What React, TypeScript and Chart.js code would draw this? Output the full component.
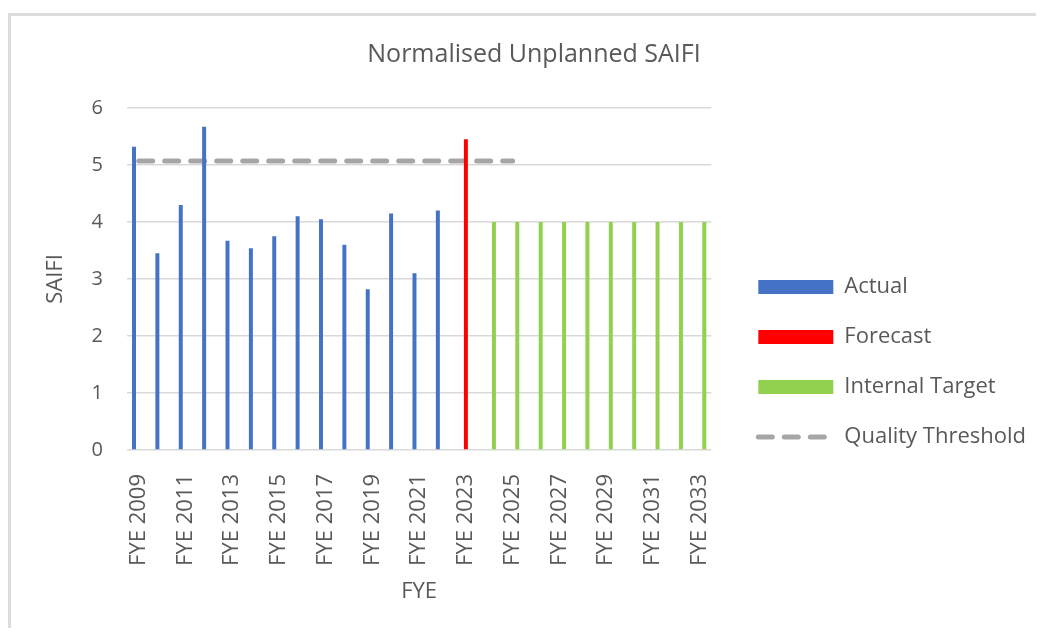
import React, { useEffect, useRef } from 'react';
import { Chart, registerables } from 'chart.js';

Chart.register(...registerables);

const categories = [
  'FYE 2009', 'FYE 2010', 'FYE 2011', 'FYE 2012', 'FYE 2013', 'FYE 2014', 'FYE 2015',
  'FYE 2016', 'FYE 2017', 'FYE 2018', 'FYE 2019', 'FYE 2020', 'FYE 2021', 'FYE 2022',
  'FYE 2023', 'FYE 2024', 'FYE 2025', 'FYE 2026', 'FYE 2027', 'FYE 2028', 'FYE 2029',
  'FYE 2030', 'FYE 2031', 'FYE 2032', 'FYE 2033',
];

const actual = [
  5.32, 3.45, 4.3, 5.67, 3.67, 3.54, 3.75, 4.1, 4.05, 3.6, 2.82, 4.15, 3.1, 4.2,
  null, null, null, null, null, null, null, null, null, null, null,
];

const forecast = [
  null, null, null, null, null, null, null, null, null, null, null, null, null, null,
  5.45, null, null, null, null, null, null, null, null, null, null,
];

const internalTarget = [
  null, null, null, null, null, null, null, null, null, null, null, null, null, null,
  null, 4, 4, 4, 4, 4, 4, 4, 4, 4, 4,
];

const qualityThreshold = [
  5.07, 5.07, 5.07, 5.07, 5.07, 5.07, 5.07, 5.07, 5.07, 5.07, 5.07, 5.07, 5.07, 5.07,
  5.07, 5.07, 5.07, null, null, null, null, null, null, null, null,
];

const yMin = 0;
const yMax = 6;
const yStep = 1;

const TEXT = '#595959';
const GRID = '#d9d9d9';
const LINE_DASH = [14, 12];

export default function App() {
  const ref = useRef<HTMLCanvasElement | null>(null);

  useEffect(() => {
    if (!ref.current) return;
    Chart.defaults.font.family = "'Open Sans', sans-serif";
    const chart = new Chart(ref.current, {
      type: 'bar',
      data: {
        labels: categories,
        datasets: [
          {
            type: 'bar',
            label: 'Actual',
            data: actual,
            backgroundColor: '#4472c4',
            borderWidth: 0,
            order: 0,
          },
          {
            type: 'bar',
            label: 'Forecast',
            data: forecast,
            backgroundColor: '#ff0000',
            borderWidth: 0,
            order: 0,
          },
          {
            type: 'bar',
            label: 'Internal Target',
            data: internalTarget,
            backgroundColor: '#92d050',
            borderWidth: 0,
            order: 0,
          },
          {
            type: 'line',
            label: 'Quality Threshold',
            data: qualityThreshold,
            borderColor: '#a6a6a6',
            backgroundColor: '#a6a6a6',
            borderWidth: 5,
            borderDash: LINE_DASH,
            borderCapStyle: 'round',
            pointRadius: 0,
            fill: false,
            order: 1,
          },
        ] as any,
      },
      options: {
        responsive: true,
        maintainAspectRatio: false,
        animation: false,
        devicePixelRatio: 1,
        layout: { padding: { left: 21, right: 0, top: 0, bottom: 0 } },
        datasets: {
          bar: { categoryPercentage: 0.6, barPercentage: 0.85 },
        },
        scales: {
          x: {
            grid: { display: false },
            border: { display: false },
            ticks: {
              autoSkip: false,
              minRotation: 90,
              maxRotation: 90,
              padding: 16,
              color: TEXT,
              font: { size: 22 },
              callback: (_v: any, i: number) => (i % 2 === 0 ? categories[i] : ''),
            },
            title: {
              display: true,
              text: 'FYE',
              color: TEXT,
              font: { size: 22 },
              padding: { top: 0, bottom: 23 },
            },
            afterFit: (s: any) => {
              s.height = 178;
            },
          },
          y: {
            min: yMin,
            max: yMax,
            grid: { color: GRID, lineWidth: 1.5, drawTicks: false },
            border: { display: false },
            ticks: {
              stepSize: yStep,
              padding: 24,
              color: TEXT,
              font: { size: 20 },
            },
            title: {
              display: true,
              text: 'SAIFI',
              color: TEXT,
              font: { size: 22 },
              padding: { top: 11, bottom: 0 },
            },
            afterFit: (s: any) => {
              s.width = 95;
            },
          },
          y2: {
            type: 'linear',
            position: 'right',
            display: true,
            grid: { display: false },
            border: { display: false },
            ticks: { display: false },
            afterFit: (s: any) => {
              s.width = 19;
            },
          },
        },
        plugins: {
          tooltip: { enabled: false },
          title: {
            display: true,
            text: 'Normalised Unplanned SAIFI',
            color: TEXT,
            font: { size: 25, weight: 'normal' },
            padding: { top: 24, bottom: 38 },
          },
          legend: {
            display: true,
            position: 'right',
            align: 'center',
            maxWidth: 307,
            title: {
              display: true,
              text: ' ',
              padding: 0,
              font: { size: 80, lineHeight: 1 },
            },
            labels: {
              usePointStyle: true,
              pointStyleWidth: 75,
              boxHeight: 14,
              padding: 28,
              color: TEXT,
              font: { size: 22 },
              generateLabels: (c: any) => {
                const items = Chart.defaults.plugins.legend.labels.generateLabels(c);
                items.sort((a: any, b: any) => a.datasetIndex - b.datasetIndex);
                items.forEach((it: any) => {
                  const ds = c.data.datasets[it.datasetIndex];
                  if (ds.type === 'line') {
                    it.pointStyle = 'line';
                    it.lineDash = LINE_DASH;
                    it.lineCap = 'round';
                    it.lineWidth = 5;
                    it.strokeStyle = ds.borderColor;
                  } else {
                    it.pointStyle = 'rect';
                    it.lineWidth = 0;
                  }
                });
                return items;
              },
            },
          },
        },
      } as any,
    });
    return () => chart.destroy();
  }, []);

  return (
    <div style={{ paddingTop: 5 }}>
      <div
        style={{
          position: 'relative',
          width: 1025,
          height: 612,
          borderTop: '3px solid #dcdcdc',
          borderLeft: '3px solid #dcdcdc',
        }}
      >
        <canvas ref={ref} />
      </div>
    </div>
  );
}
